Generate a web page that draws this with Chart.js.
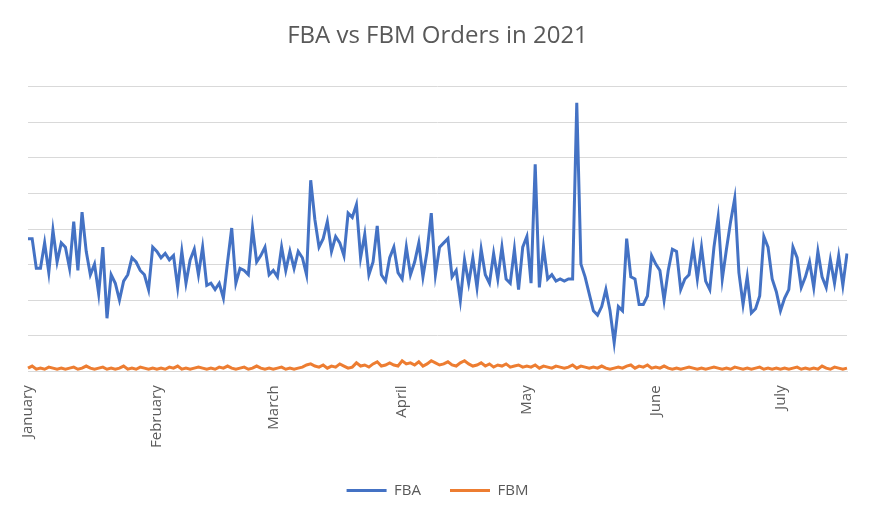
<!DOCTYPE html>
<html><head><meta charset="utf-8">
<script src="https://cdn.jsdelivr.net/npm/chart.js@4"></script>
<style>html,body{margin:0;padding:0;background:#fff}#w{width:875px;height:512px}</style>
</head><body><div id="w"><canvas id="c"></canvas></div>
<script>
const monthNames=["January","February","March","April","May","June","July"];
const monthDays=[31,28,31,30,31,30,17];
const fba=[125,125,97,97,121,93,133,103,121,117,97,141,95,150,113,91,101,73,117,50,91,83,67,85,91,107,103,95,91,77,117,
113,107,111,105,109,79,113,83,105,115,91,117,81,83,77,83,69,103,135,83,97,95,91,135,103,109,117,91,
95,89,117,95,113,97,113,107,91,180,143,117,125,141,113,127,121,109,149,145,157,107,129,91,103,137,91,85,107,117,93,
87,117,91,103,121,89,113,149,91,117,121,125,89,95,67,105,83,107,79,115,91,83,111,87,117,87,83,115,77,117,
127,83,195,79,117,87,91,85,87,85,87,87,253,101,89,73,57,53,61,77,57,27,61,57,125,89,87,63,63,71,109,
101,95,67,95,115,113,77,87,91,117,87,117,85,77,117,145,87,115,141,163,93,63,89,55,59,71,127,117,87,75,
57,69,77,117,107,79,89,103,79,113,89,79,105,83,109,81,111];
const fbm=[3,5,2,3,2,4,3,2,3,2,3,4,2,3,5,3,2,3,4,2,3,2,3,5,2,3,2,4,3,2,3,
2,3,2,4,3,5,2,3,2,3,4,3,2,3,2,4,3,5,3,2,3,4,2,3,5,3,2,
3,2,3,4,2,3,2,3,4,6,7,5,4,6,3,5,4,7,5,3,4,8,5,6,4,7,9,5,6,8,6,5,
10,7,8,6,9,5,7,10,8,6,7,9,6,5,8,10,7,5,6,8,5,7,4,6,5,7,4,5,6,4,
5,4,6,3,5,4,3,5,4,3,4,6,3,5,4,3,4,3,5,3,2,3,4,3,5,6,3,5,4,6,3,
4,3,5,3,2,3,2,3,4,3,2,3,2,3,4,3,2,3,2,4,3,2,3,2,3,4,2,3,2,3,
2,3,2,3,4,2,3,2,3,2,5,3,2,4,3,2,3];
const labels=[];const monthStart={};
monthNames.forEach((m,i)=>{for(let d=1;d<=monthDays[i];d++){if(d===1)monthStart[labels.length]=m;labels.push(m+" "+d);}});
new Chart(document.getElementById('c'),{type:'line',
data:{labels,datasets:[
{label:'FBA',data:fba,borderColor:'#4472C4',backgroundColor:'#4472C4',borderWidth:3,pointRadius:0,tension:0},
{label:'FBM',data:fbm,borderColor:'#ED7D31',backgroundColor:'#ED7D31',borderWidth:3,pointRadius:0,tension:0}]},
options:{responsive:true,maintainAspectRatio:false,animation:false,
layout:{padding:{left:28,right:28,top:12,bottom:4}},
plugins:{title:{display:true,text:'FBA vs FBM Orders in 2021',color:'#595959',font:{family:'Open Sans',size:24,weight:'normal'},padding:{top:10,bottom:36}},
legend:{position:'bottom',labels:{boxWidth:40,boxHeight:0,color:'#595959',font:{family:'Open Sans',size:15},padding:29},onClick:null},tooltip:{enabled:false}},
scales:{x:{offset:false,grid:{display:false},border:{color:'#d9d9d9'},
ticks:{autoSkip:false,maxRotation:90,minRotation:90,color:'#595959',font:{family:'Open Sans',size:15},padding:6,
callback:(v,i)=>monthStart[i]||''}},
y:{min:0,max:268,ticks:{display:false,stepSize:33.5},grid:{color:'#d9d9d9',drawTicks:false},border:{display:false}}}}});
</script></body></html>
